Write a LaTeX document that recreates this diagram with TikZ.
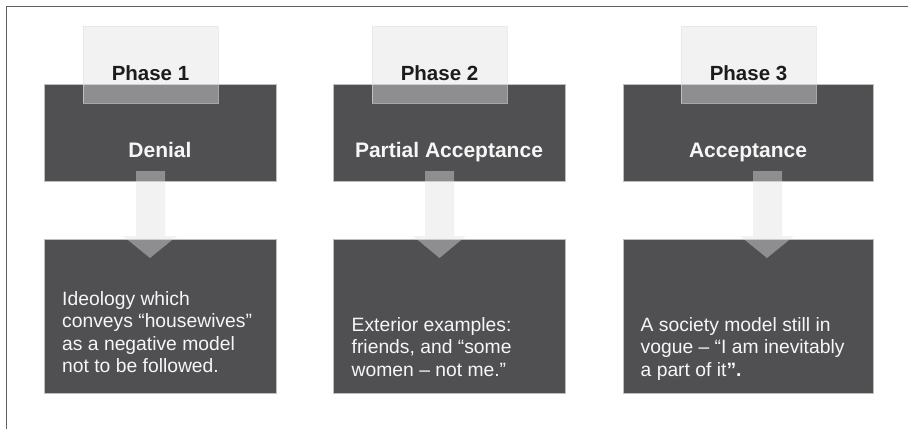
\documentclass[tikz,border=0pt]{standalone}
\usepackage{fontspec}
\setmainfont{Liberation Sans}
\definecolor{darkg}{RGB}{80,80,82}
\definecolor{lightg}{RGB}{225,225,226}
\definecolor{edgeg}{RGB}{190,190,190}
\definecolor{frameg}{RGB}{95,95,95}
\definecolor{txtw}{RGB}{246,246,246}
\definecolor{txtb}{RGB}{28,28,28}
\tikzset{
  darkbox/.style={draw=edgeg, line width=0.5pt, fill=darkg, inner sep=0pt, anchor=north west},
  phasebox/.style={draw=lightg, line width=0.6pt, fill=lightg, fill opacity=0.43, draw opacity=0.6, inner sep=0pt, anchor=north west},
  flowarrow/.style={fill=lightg, fill opacity=0.43},
  framestyle/.style={draw=frameg, line width=1pt},
  phasetxt/.style={font=\fontsize{20.5}{24}\selectfont\bfseries, text=txtb, anchor=base, inner sep=0pt},
  titletxt/.style={font=\fontsize{21}{25}\selectfont\bfseries, text=txtw, anchor=base, inner sep=0pt},
  bodytxt/.style={font=\fontsize{19.3}{22.3}\selectfont, text=txtw, anchor=north west, align=left, inner sep=0pt}
}
\begin{document}
\begin{tikzpicture}[x=1pt,y=-1pt]
\useasboundingbox (0,0) rectangle (908,429);
% frame
\coordinate (fr) at (908,6);
\coordinate (fc) at (6,6);
\coordinate (fb) at (6,429);
\draw[framestyle] (fr) -- (fc) -- (fb);
% top dark boxes
\node[darkbox, minimum width=232pt, minimum height=97pt] (d1) at (44,84) {};
\node[darkbox, minimum width=232pt, minimum height=97pt] (d2) at (333,84) {};
\node[darkbox, minimum width=250pt, minimum height=97pt] (d3) at (623,84) {};
% bottom dark boxes
\node[darkbox, minimum width=232pt, minimum height=154pt] (b1) at (44,239) {};
\node[darkbox, minimum width=232pt, minimum height=154pt] (b2) at (333,239) {};
\node[darkbox, minimum width=250pt, minimum height=154pt] (b3) at (623,239) {};
% phase header boxes
\node[phasebox, minimum width=135pt, minimum height=77pt] (p1) at (83,26) {};
\node[phasebox, minimum width=135pt, minimum height=77pt] (p2) at (372,26) {};
\node[phasebox, minimum width=135pt, minimum height=77pt] (p3) at (681,26) {};
% arrows
\fill[flowarrow] (136,171) -- (165,171) -- (165,236) -- (177,236) -- (150,258) -- (123,236) -- (136,236) -- cycle;
\fill[flowarrow] (425,171) -- (454,171) -- (454,236) -- (466,236) -- (439.5,258) -- (413,236) -- (425,236) -- cycle;
\fill[flowarrow] (753,171) -- (782,171) -- (782,236) -- (794,236) -- (767,258) -- (740,236) -- (753,236) -- cycle;
% texts
\node[phasetxt] (t1) at (150.5,80) {Phase 1};
\node[phasetxt] (t2) at (439.5,80) {Phase 2};
\node[phasetxt] (t3) at (748.5,80) {Phase 3};
\node[titletxt] (n1) at (160,157) {Denial};
\node[titletxt] (n2) at (449,157) {Partial Acceptance};
\node[titletxt] (n3) at (748,157) {Acceptance};
\node[bodytxt] (x1) at (62,291.5) {Ideology which\\conveys “housewives”\\as a negative model\\not to be followed.};
\node[bodytxt] (x2) at (351.5,317.3) {Exterior examples:\\friends, and “some\\women – not me.”};
\node[bodytxt] (x3) at (640.5,317.3) {A society model still in\\vogue – “I am inevitably\\a part of it\textbf{”.}};
\end{tikzpicture}
\end{document}
